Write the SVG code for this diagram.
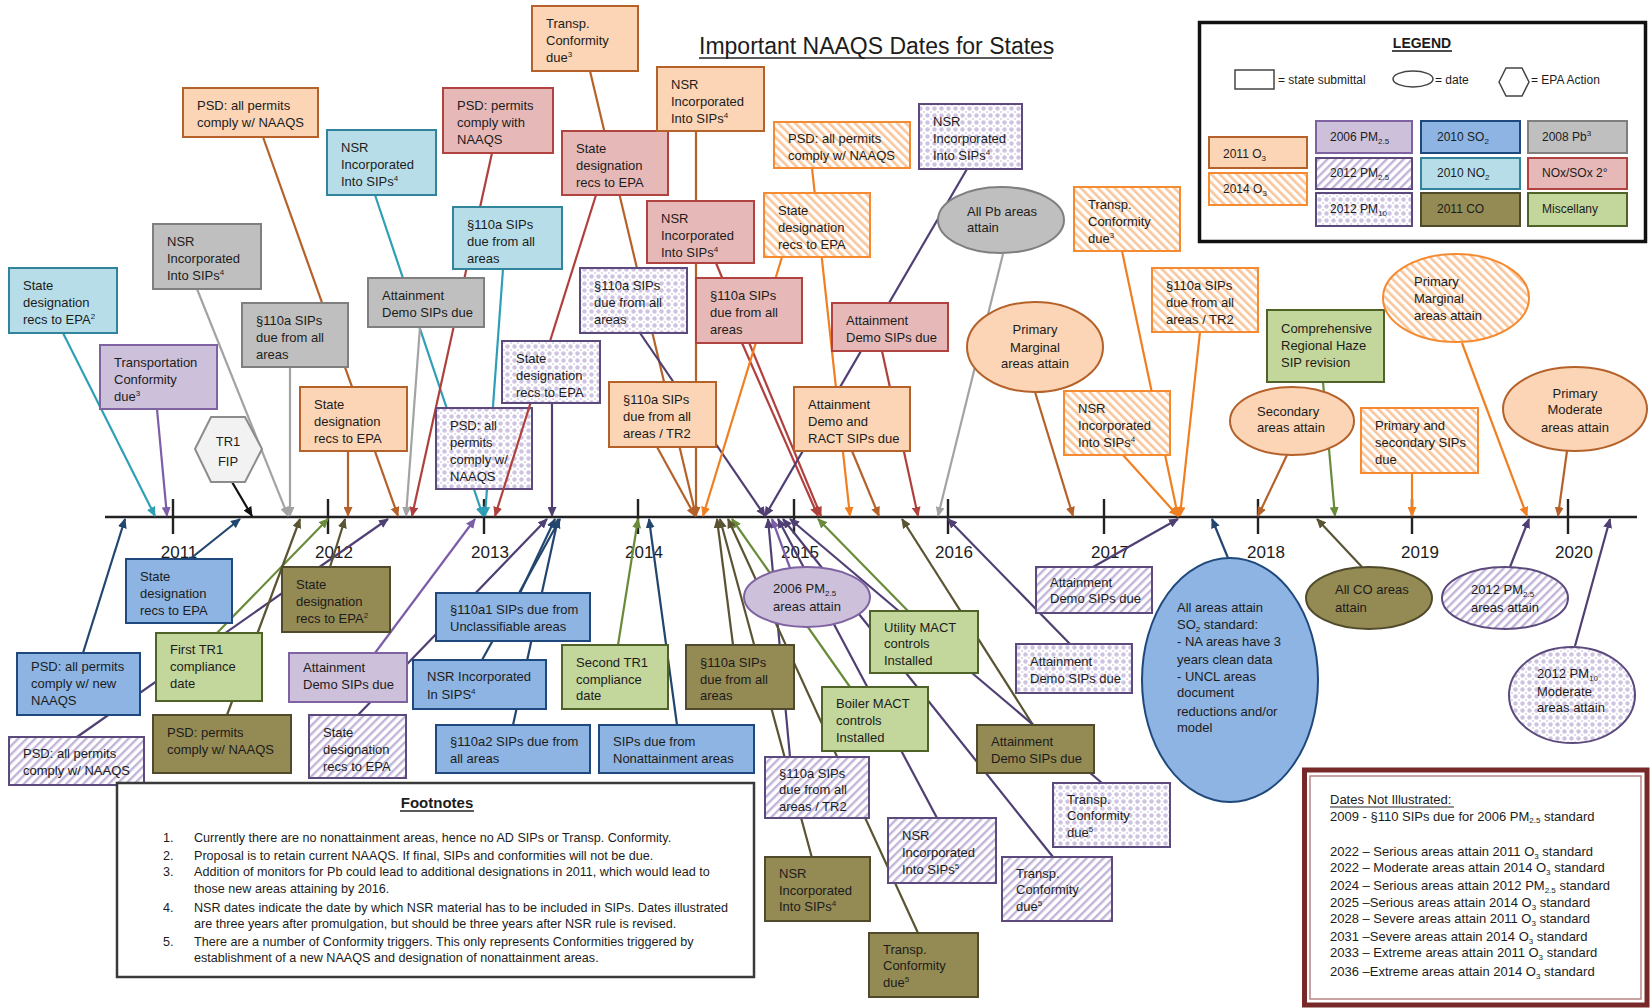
<svg xmlns="http://www.w3.org/2000/svg" width="1650" height="1008" viewBox="0 0 1650 1008">
<defs>
<style>
text{font-family:"Liberation Sans",Arial,sans-serif;fill:#1c1c1c}
.t{font-size:13px}
.s{font-size:8px}
.yr{font-size:17px;text-anchor:middle}
.fn{font-size:12.6px}
.dt{font-size:13px}
.lg{font-size:12px}
.O3{fill:#FBD5B5;stroke:#B5612A;stroke-width:2}
.O314{fill:url(#hO);stroke:#F58A30;stroke-width:2}
.PM06{fill:#CCC0DA;stroke:#7F63A1;stroke-width:2}
.PM12{fill:url(#hP);stroke:#5C4A7D;stroke-width:2}
.PM10{fill:url(#dP);stroke:#5C4A7D;stroke-width:2}
.SO2{fill:#8DB4E2;stroke:#1F497D;stroke-width:2}
.NO2{fill:#B7DEE8;stroke:#31849B;stroke-width:2}
.CO{fill:#948A54;stroke:#4F4A2B;stroke-width:2}
.Pb{fill:#BFBFBF;stroke:#7F7F7F;stroke-width:2}
.NOx{fill:#E6B9B8;stroke:#B0433F;stroke-width:2}
.Misc{fill:#C3D69B;stroke:#4F6228;stroke-width:2}
.conn line{fill:none;stroke-width:2.2}
.cO3{stroke:#B5612A;marker-end:url(#aO3)}
.cO314{stroke:#F07F22;marker-end:url(#aO314)}
.cPM06{stroke:#7B5EA7;marker-end:url(#aPM06)}
.cPM12{stroke:#4F3F73;marker-end:url(#aPM12)}
.cSO2{stroke:#23466F;marker-end:url(#aSO2)}
.cNO2{stroke:#2F9FB6;marker-end:url(#aNO2)}
.cCO{stroke:#5A5432;marker-end:url(#aCO)}
.cPb{stroke:#A3A3A3;marker-end:url(#aPb)}
.cNOx{stroke:#B0403D;marker-end:url(#aNOx)}
.cMisc{stroke:#698B3A;marker-end:url(#aMisc)}
.cBlk{stroke:#111;marker-end:url(#aBlk)}
</style>
<pattern id="hO" patternUnits="userSpaceOnUse" width="6" height="6" patternTransform="rotate(-45)"><rect width="6" height="6" fill="#fff"/><rect width="2.6" height="6" fill="#F9C59A"/></pattern>
<pattern id="hP" patternUnits="userSpaceOnUse" width="6" height="6" patternTransform="rotate(45)"><rect width="6" height="6" fill="#fff"/><rect width="2.4" height="6" fill="#C2B4D8"/></pattern>
<pattern id="dP" patternUnits="userSpaceOnUse" width="7" height="7"><rect width="7" height="7" fill="#fff"/><circle cx="3.5" cy="3.5" r="2.2" fill="#CFC3E2"/><circle cx="0" cy="0" r="1.1" fill="#DCD3EA"/><circle cx="7" cy="0" r="1.1" fill="#DCD3EA"/><circle cx="0" cy="7" r="1.1" fill="#DCD3EA"/><circle cx="7" cy="7" r="1.1" fill="#DCD3EA"/></pattern>
<marker id="aO3" viewBox="0 0 10 9" refX="9" refY="4.5" markerWidth="10" markerHeight="9" markerUnits="userSpaceOnUse" orient="auto"><path d="M0,0L10,4.5L0,9z" fill="#B5612A"/></marker>
<marker id="aO314" viewBox="0 0 10 9" refX="9" refY="4.5" markerWidth="10" markerHeight="9" markerUnits="userSpaceOnUse" orient="auto"><path d="M0,0L10,4.5L0,9z" fill="#F07F22"/></marker>
<marker id="aPM06" viewBox="0 0 10 9" refX="9" refY="4.5" markerWidth="10" markerHeight="9" markerUnits="userSpaceOnUse" orient="auto"><path d="M0,0L10,4.5L0,9z" fill="#7B5EA7"/></marker>
<marker id="aPM12" viewBox="0 0 10 9" refX="9" refY="4.5" markerWidth="10" markerHeight="9" markerUnits="userSpaceOnUse" orient="auto"><path d="M0,0L10,4.5L0,9z" fill="#4F3F73"/></marker>
<marker id="aSO2" viewBox="0 0 10 9" refX="9" refY="4.5" markerWidth="10" markerHeight="9" markerUnits="userSpaceOnUse" orient="auto"><path d="M0,0L10,4.5L0,9z" fill="#23466F"/></marker>
<marker id="aNO2" viewBox="0 0 10 9" refX="9" refY="4.5" markerWidth="10" markerHeight="9" markerUnits="userSpaceOnUse" orient="auto"><path d="M0,0L10,4.5L0,9z" fill="#2F9FB6"/></marker>
<marker id="aCO" viewBox="0 0 10 9" refX="9" refY="4.5" markerWidth="10" markerHeight="9" markerUnits="userSpaceOnUse" orient="auto"><path d="M0,0L10,4.5L0,9z" fill="#5A5432"/></marker>
<marker id="aPb" viewBox="0 0 10 9" refX="9" refY="4.5" markerWidth="10" markerHeight="9" markerUnits="userSpaceOnUse" orient="auto"><path d="M0,0L10,4.5L0,9z" fill="#A3A3A3"/></marker>
<marker id="aNOx" viewBox="0 0 10 9" refX="9" refY="4.5" markerWidth="10" markerHeight="9" markerUnits="userSpaceOnUse" orient="auto"><path d="M0,0L10,4.5L0,9z" fill="#B0403D"/></marker>
<marker id="aMisc" viewBox="0 0 10 9" refX="9" refY="4.5" markerWidth="10" markerHeight="9" markerUnits="userSpaceOnUse" orient="auto"><path d="M0,0L10,4.5L0,9z" fill="#698B3A"/></marker>
<marker id="aBlk" viewBox="0 0 10 9" refX="9" refY="4.5" markerWidth="10" markerHeight="9" markerUnits="userSpaceOnUse" orient="auto"><path d="M0,0L10,4.5L0,9z" fill="#111"/></marker>
</defs>
<rect width="1650" height="1008" fill="#fff"/>

<g id="title"><text x="699" y="54" font-size="23">Important NAAQS Dates for States</text><line x1="699" y1="58" x2="1052" y2="58" stroke="#222" stroke-width="1.6"/></g>

<g id="legend">
<rect x="1199.5" y="22.5" width="446" height="219" fill="#fff" stroke="#111" stroke-width="3.5"/>
<text x="1422" y="48" font-size="14" font-weight="bold" text-anchor="middle">LEGEND</text>
<line x1="1392" y1="51" x2="1452" y2="51" stroke="#111" stroke-width="1.3"/>
<rect x="1235" y="70" width="39" height="19" fill="#fff" stroke="#444" stroke-width="1.5"/>
<text class="lg" x="1278" y="84">= state submittal</text>
<ellipse cx="1413" cy="79" rx="20" ry="8" fill="#fff" stroke="#444" stroke-width="1.5"/>
<text class="lg" x="1435" y="84">= date</text>
<polygon points="1499,82 1506,68 1522,68 1529,82 1522,96 1506,96" fill="#fff" stroke="#444" stroke-width="1.5"/>
<text class="lg" x="1531" y="84">= EPA Action</text>
<rect class="O3" x="1209" y="137" width="98" height="31"/><text class="lg" x="1223" y="158">2011 O<tspan class="s" dy="3">3</tspan></text>
<rect class="O314" x="1209" y="173" width="98" height="32"/><text class="lg" x="1223" y="193">2014 O<tspan class="s" dy="3">3</tspan></text>
<rect class="PM06" x="1316" y="121" width="96" height="32"/><text class="lg" x="1330" y="141">2006 PM<tspan class="s" dy="3">2.5</tspan></text>
<rect class="PM12" x="1316" y="158" width="96" height="31"/><text class="lg" x="1330" y="177">2012 PM<tspan class="s" dy="3">2.5</tspan></text>
<rect class="PM10" x="1316" y="193" width="96" height="33"/><text class="lg" x="1330" y="213">2012 PM<tspan class="s" dy="3">10</tspan></text>
<rect class="SO2" x="1421" y="121" width="99" height="32"/><text class="lg" x="1437" y="141">2010 SO<tspan class="s" dy="3">2</tspan></text>
<rect class="NO2" x="1421" y="158" width="99" height="31"/><text class="lg" x="1437" y="177">2010 NO<tspan class="s" dy="3">2</tspan></text>
<rect class="CO" x="1421" y="193" width="99" height="33"/><text class="lg" x="1437" y="213">2011 CO</text>
<rect class="Pb" x="1528" y="121" width="99" height="32"/><text class="lg" x="1542" y="141">2008 Pb<tspan class="s" dy="-5">3</tspan></text>
<rect class="NOx" x="1528" y="158" width="99" height="31"/><text class="lg" x="1542" y="177">NOx/SOx 2°</text>
<rect class="Misc" x="1528" y="193" width="99" height="33"/><text class="lg" x="1542" y="213">Miscellany</text>
</g>

<g id="timeline" stroke="#222" stroke-width="2.4">
<line x1="105" y1="517" x2="1637" y2="517"/>
<line x1="173" y1="499" x2="173" y2="534"/><line x1="328" y1="499" x2="328" y2="534"/><line x1="484" y1="499" x2="484" y2="534"/><line x1="638" y1="499" x2="638" y2="534"/><line x1="794" y1="499" x2="794" y2="534"/><line x1="948" y1="499" x2="948" y2="534"/><line x1="1104" y1="499" x2="1104" y2="534"/><line x1="1258" y1="499" x2="1258" y2="534"/><line x1="1412" y1="499" x2="1412" y2="534"/><line x1="1568" y1="499" x2="1568" y2="534"/>
</g>
<g id="years">
<text class="yr" x="179" y="558">2011</text><text class="yr" x="334" y="558">2012</text><text class="yr" x="490" y="558">2013</text><text class="yr" x="644" y="558">2014</text><text class="yr" x="800" y="558">2015</text><text class="yr" x="954" y="558">2016</text><text class="yr" x="1110" y="558">2017</text><text class="yr" x="1266" y="558">2018</text><text class="yr" x="1420" y="558">2019</text><text class="yr" x="1574" y="558">2020</text>
</g>

<g id="connectors" class="conn">
<line class="cNO2" x1="63" y1="333" x2="155" y2="516"/>
<line class="cPM06" x1="157" y1="409" x2="167" y2="516"/>
<line class="cPb" x1="197" y1="289" x2="288" y2="516"/>
<line class="cPb" x1="290" y1="367" x2="290" y2="516"/>
<line class="cBlk" x1="232" y1="482" x2="252" y2="516"/>
<line class="cO3" x1="348" y1="451" x2="348" y2="516"/>
<line class="cO3" x1="263" y1="137" x2="398" y2="516"/>
<line class="cNO2" x1="375" y1="195" x2="483" y2="516"/>
<line class="cPb" x1="420" y1="327" x2="406" y2="516"/>
<line class="cNO2" x1="503" y1="269" x2="485" y2="516"/>
<line class="cNOx" x1="492" y1="153" x2="412" y2="516"/>
<line class="cO3" x1="590" y1="71" x2="696" y2="516"/>
<line class="cO3" x1="696" y1="131" x2="696" y2="516"/>
<line class="cNOx" x1="716" y1="263" x2="821" y2="516"/>
<line class="cNOx" x1="742" y1="343" x2="818" y2="516"/>
<line class="cPM12" x1="640" y1="333" x2="765" y2="516"/>
<line class="cPM12" x1="552" y1="403" x2="552" y2="516"/>
<line class="cO3" x1="657" y1="447" x2="695" y2="516"/>
<line class="cO314" x1="812" y1="168" x2="850" y2="516"/>
<line class="cO314" x1="782" y1="257" x2="703" y2="516"/>
<line class="cPM12" x1="967" y1="169" x2="765" y2="516"/>
<line class="cNOx" x1="882" y1="351" x2="918" y2="516"/>
<line class="cO3" x1="852" y1="451" x2="879" y2="516"/>
<line class="cPb" x1="1003" y1="254" x2="938" y2="516"/>
<line class="cO3" x1="1035" y1="392" x2="1073" y2="516"/>
<line class="cO314" x1="1122" y1="251" x2="1178" y2="516"/>
<line class="cO314" x1="1200" y1="332" x2="1180" y2="516"/>
<line class="cO314" x1="1123" y1="455" x2="1178" y2="516"/>
<line class="cMisc" x1="1323" y1="382" x2="1335" y2="516"/>
<line class="cO314" x1="1462" y1="343" x2="1527" y2="516"/>
<line class="cO3" x1="1287" y1="455" x2="1258" y2="516"/>
<line class="cO314" x1="1412" y1="473" x2="1412" y2="516"/>
<line class="cO3" x1="1567" y1="451" x2="1558" y2="516"/>
<line class="cSO2" x1="190" y1="559" x2="240" y2="519"/>
<line class="cSO2" x1="83" y1="653" x2="125" y2="519"/>
<line class="cPM12" x1="77" y1="737" x2="388" y2="519"/>
<line class="cMisc" x1="217" y1="633" x2="328" y2="519"/>
<line class="cCO" x1="227" y1="715" x2="300" y2="519"/>
<line class="cCO" x1="330" y1="567" x2="345" y2="519"/>
<line class="cPM06" x1="375" y1="653" x2="475" y2="519"/>
<line class="cPM12" x1="358" y1="715" x2="547" y2="519"/>
<line class="cSO2" x1="520" y1="593" x2="555" y2="519"/>
<line class="cSO2" x1="482" y1="660" x2="560" y2="519"/>
<line class="cSO2" x1="513" y1="725" x2="558" y2="519"/>
<line class="cMisc" x1="618" y1="645" x2="638" y2="519"/>
<line class="cSO2" x1="677" y1="725" x2="649" y2="519"/>
<line class="cCO" x1="733" y1="645" x2="717" y2="519"/>
<line class="cPM06" x1="790" y1="568" x2="772" y2="519"/>
<line class="cMisc" x1="908" y1="611" x2="818" y2="519"/>
<line class="cMisc" x1="850" y1="687" x2="732" y2="519"/>
<line class="cPM12" x1="790" y1="757" x2="768" y2="519"/>
<line class="cCO" x1="812" y1="858" x2="720" y2="519"/>
<line class="cCO" x1="918" y1="933" x2="728" y2="519"/>
<line class="cPM12" x1="937" y1="818" x2="778" y2="519"/>
<line class="cCO" x1="1033" y1="725" x2="902" y2="519"/>
<line class="cPM12" x1="1102" y1="783" x2="790" y2="519"/>
<line class="cPM12" x1="1070" y1="644" x2="948" y2="519"/>
<line class="cPM12" x1="1093" y1="567" x2="1178" y2="519"/>
<line class="cSO2" x1="1228" y1="558" x2="1212" y2="519"/>
<line class="cCO" x1="1362" y1="567" x2="1317" y2="519"/>
<line class="cPM12" x1="1510" y1="567" x2="1529" y2="519"/>
<line class="cPM12" x1="1575" y1="646" x2="1610" y2="519"/>
<line class="cPM12" x1="1053" y1="857" x2="783" y2="519"/>
</g>

<g id="n19"><rect class="PM10" x="436" y="408" width="96" height="81"/><text class="t" x="450" y="430"><tspan>PSD: all</tspan><tspan x="450" y="447">permits</tspan><tspan x="450" y="464">comply w/</tspan><tspan x="450" y="481">NAAQS</tspan></text></g>

<g id="connectors-front" class="conn">
<line class="cNOx" x1="596" y1="195" x2="495" y2="516"/>
</g>

<g id="n1"><rect class="NO2" x="9" y="268" width="108" height="65"/><text class="t" x="23" y="290"><tspan>State</tspan><tspan x="23" y="307">designation</tspan><tspan x="23" y="324">recs to EPA<tspan class="s" dy="-5">2</tspan></tspan></text></g>
<g id="n2"><rect class="PM06" x="100" y="345" width="117" height="64"/><text class="t" x="114" y="367"><tspan>Transportation</tspan><tspan x="114" y="384">Conformity</tspan><tspan x="114" y="401">due<tspan class="s" dy="-5">3</tspan></tspan></text></g>
<g id="n3"><rect class="Pb" x="153" y="224" width="108" height="65"/><text class="t" x="167" y="246"><tspan>NSR</tspan><tspan x="167" y="263">Incorporated</tspan><tspan x="167" y="280">Into SIPs<tspan class="s" dy="-5">4</tspan></tspan></text></g>
<g id="n4"><rect class="Pb" x="242" y="303" width="106" height="64"/><text class="t" x="256" y="325"><tspan>§110a SIPs</tspan><tspan x="256" y="342">due from all</tspan><tspan x="256" y="359">areas</tspan></text></g>
<g id="n5"><polygon points="195,449 211,417 245,417 262,449 245,482 211,482" fill="#F2F2F2" stroke="#8C8C8C" stroke-width="2"/><text class="t" x="228" y="446" text-anchor="middle">TR1</text><text class="t" x="228" y="466" text-anchor="middle">FIP</text></g>
<g id="n6"><rect class="O3" x="300" y="387" width="107" height="64"/><text class="t" x="314" y="409"><tspan>State</tspan><tspan x="314" y="426">designation</tspan><tspan x="314" y="443">recs to EPA</tspan></text></g>
<g id="n7"><rect class="O3" x="183" y="88" width="135" height="49"/><text class="t" x="197" y="110"><tspan>PSD: all permits</tspan><tspan x="197" y="127">comply w/ NAAQS</tspan></text></g>
<g id="n8"><rect class="NO2" x="327" y="130" width="109" height="65"/><text class="t" x="341" y="152"><tspan>NSR</tspan><tspan x="341" y="169">Incorporated</tspan><tspan x="341" y="186">Into SIPs<tspan class="s" dy="-5">4</tspan></tspan></text></g>
<g id="n9"><rect class="Pb" x="368" y="278" width="116" height="49"/><text class="t" x="382" y="300"><tspan>Attainment</tspan><tspan x="382" y="317">Demo SIPs due</tspan></text></g>
<g id="n10"><rect class="NO2" x="453" y="207" width="109" height="62"/><text class="t" x="467" y="229"><tspan>§110a SIPs</tspan><tspan x="467" y="246">due from all</tspan><tspan x="467" y="263">areas</tspan></text></g>
<g id="n11"><rect class="NOx" x="443" y="88" width="110" height="65"/><text class="t" x="457" y="110"><tspan>PSD: permits</tspan><tspan x="457" y="127">comply with</tspan><tspan x="457" y="144">NAAQS</tspan></text></g>
<g id="n12"><rect class="O3" x="532" y="6" width="106" height="65"/><text class="t" x="546" y="28"><tspan>Transp.</tspan><tspan x="546" y="45">Conformity</tspan><tspan x="546" y="62">due<tspan class="s" dy="-5">3</tspan></tspan></text></g>
<g id="n13"><rect class="NOx" x="562" y="131" width="106" height="64"/><text class="t" x="576" y="153"><tspan>State</tspan><tspan x="576" y="170">designation</tspan><tspan x="576" y="187">recs to EPA</tspan></text></g>
<g id="n14"><rect class="O3" x="657" y="67" width="107" height="64"/><text class="t" x="671" y="89"><tspan>NSR</tspan><tspan x="671" y="106">Incorporated</tspan><tspan x="671" y="123">Into SIPs<tspan class="s" dy="-5">4</tspan></tspan></text></g>
<g id="n15"><rect class="NOx" x="647" y="201" width="107" height="62"/><text class="t" x="661" y="223"><tspan>NSR</tspan><tspan x="661" y="240">Incorporated</tspan><tspan x="661" y="257">Into SIPs<tspan class="s" dy="-5">4</tspan></tspan></text></g>
<g id="n16"><rect class="NOx" x="696" y="278" width="106" height="65"/><text class="t" x="710" y="300"><tspan>§110a SIPs</tspan><tspan x="710" y="317">due from all</tspan><tspan x="710" y="334">areas</tspan></text></g>
<g id="n17"><rect class="PM10" x="580" y="268" width="107" height="65"/><text class="t" x="594" y="290"><tspan>§110a SIPs</tspan><tspan x="594" y="307">due from all</tspan><tspan x="594" y="324">areas</tspan></text></g>
<g id="n18"><rect class="PM10" x="502" y="341" width="98" height="62"/><text class="t" x="516" y="363"><tspan>State</tspan><tspan x="516" y="380">designation</tspan><tspan x="516" y="397">recs to EPA</tspan></text></g>
<g id="n20"><rect class="O3" x="609" y="382" width="107" height="65"/><text class="t" x="623" y="404"><tspan>§110a SIPs</tspan><tspan x="623" y="421">due from all</tspan><tspan x="623" y="438">areas / TR2</tspan></text></g>
<g id="n21"><rect class="O314" x="774" y="122" width="136" height="46"/><text class="t" x="788" y="143"><tspan>PSD: all permits</tspan><tspan x="788" y="160">comply w/ NAAQS</tspan></text></g>
<g id="n22"><rect class="O314" x="764" y="193" width="106" height="64"/><text class="t" x="778" y="215"><tspan>State</tspan><tspan x="778" y="232">designation</tspan><tspan x="778" y="249">recs to EPA</tspan></text></g>
<g id="n23"><rect class="PM10" x="919" y="104" width="103" height="65"/><text class="t" x="933" y="126"><tspan>NSR</tspan><tspan x="933" y="143">Incorporated</tspan><tspan x="933" y="160">Into SIPs<tspan class="s" dy="-5">4</tspan></tspan></text></g>
<g id="n24"><rect class="NOx" x="832" y="303" width="116" height="48"/><text class="t" x="846" y="325"><tspan>Attainment</tspan><tspan x="846" y="342">Demo SIPs due</tspan></text></g>
<g id="n25"><rect class="O3" x="794" y="387" width="116" height="64"/><text class="t" x="808" y="409"><tspan>Attainment</tspan><tspan x="808" y="426">Demo and</tspan><tspan x="808" y="443">RACT SIPs due</tspan></text></g>
<g id="n26"><ellipse class="Pb" cx="1001" cy="220" rx="63" ry="33"/><text class="t" x="967" y="216"><tspan>All Pb areas</tspan><tspan x="967" y="232">attain</tspan></text></g>
<g id="n27"><ellipse class="O3" cx="1035" cy="347" rx="68" ry="45"/><text class="t" x="1035" y="334" text-anchor="middle"><tspan>Primary</tspan><tspan x="1035" y="352">Marginal</tspan><tspan x="1035" y="368">areas attain</tspan></text></g>
<g id="n28"><rect class="O314" x="1074" y="187" width="106" height="64"/><text class="t" x="1088" y="209"><tspan>Transp.</tspan><tspan x="1088" y="226">Conformity</tspan><tspan x="1088" y="243">due<tspan class="s" dy="-5">3</tspan></tspan></text></g>
<g id="n29"><rect class="O314" x="1152" y="268" width="106" height="64"/><text class="t" x="1166" y="290"><tspan>§110a SIPs</tspan><tspan x="1166" y="307">due from all</tspan><tspan x="1166" y="324">areas / TR2</tspan></text></g>
<g id="n30"><rect class="O314" x="1064" y="391" width="106" height="64"/><text class="t" x="1078" y="413"><tspan>NSR</tspan><tspan x="1078" y="430">Incorporated</tspan><tspan x="1078" y="447">Into SIPs<tspan class="s" dy="-5">4</tspan></tspan></text></g>
<g id="n31"><rect class="Misc" x="1267" y="310" width="117" height="72"/><text class="t" x="1281" y="333"><tspan>Comprehensive</tspan><tspan x="1281" y="350">Regional Haze</tspan><tspan x="1281" y="367">SIP revision</tspan></text></g>
<g id="n32"><ellipse class="O314" cx="1456" cy="298" rx="73" ry="44"/><text class="t" x="1414" y="286"><tspan>Primary</tspan><tspan x="1414" y="303">Marginal</tspan><tspan x="1414" y="320">areas attain</tspan></text></g>
<g id="n33"><ellipse class="O3" cx="1292" cy="421" rx="62" ry="34"/><text class="t" x="1257" y="416"><tspan>Secondary</tspan><tspan x="1257" y="432">areas attain</tspan></text></g>
<g id="n34"><rect class="O314" x="1361" y="408" width="117" height="65"/><text class="t" x="1375" y="430"><tspan>Primary and</tspan><tspan x="1375" y="447">secondary SIPs</tspan><tspan x="1375" y="464">due</tspan></text></g>
<g id="n35"><ellipse class="O3" cx="1575" cy="409" rx="72" ry="42"/><text class="t" x="1575" y="398" text-anchor="middle"><tspan>Primary</tspan><tspan x="1575" y="414">Moderate</tspan><tspan x="1575" y="432">areas attain</tspan></text></g>

<g id="n36"><rect class="SO2" x="126" y="559" width="106" height="64"/><text class="t" x="140" y="581"><tspan>State</tspan><tspan x="140" y="598">designation</tspan><tspan x="140" y="615">recs to EPA</tspan></text></g>
<g id="n37"><rect class="SO2" x="17" y="653" width="123" height="62"/><text class="t" x="31" y="671"><tspan>PSD: all permits</tspan><tspan x="31" y="688">comply w/ new</tspan><tspan x="31" y="705">NAAQS</tspan></text></g>
<g id="n38"><rect class="PM12" x="9" y="737" width="135" height="48"/><text class="t" x="23" y="758"><tspan>PSD: all permits</tspan><tspan x="23" y="775">comply w/ NAAQS</tspan></text></g>
<g id="n39"><rect class="Misc" x="156" y="633" width="106" height="68"/><text class="t" x="170" y="654"><tspan>First TR1</tspan><tspan x="170" y="671">compliance</tspan><tspan x="170" y="688">date</tspan></text></g>
<g id="n40"><rect class="CO" x="153" y="715" width="138" height="58"/><text class="t" x="167" y="737"><tspan>PSD: permits</tspan><tspan x="167" y="754">comply w/ NAAQS</tspan></text></g>
<g id="n41"><rect class="CO" x="282" y="567" width="108" height="65"/><text class="t" x="296" y="589"><tspan>State</tspan><tspan x="296" y="606">designation</tspan><tspan x="296" y="623">recs to EPA<tspan class="s" dy="-5">2</tspan></tspan></text></g>
<g id="n42"><rect class="PM06" x="289" y="653" width="118" height="49"/><text class="t" x="303" y="672"><tspan>Attainment</tspan><tspan x="303" y="689">Demo SIPs due</tspan></text></g>
<g id="n43"><rect class="PM12" x="309" y="715" width="97" height="63"/><text class="t" x="323" y="737"><tspan>State</tspan><tspan x="323" y="754">designation</tspan><tspan x="323" y="771">recs to EPA</tspan></text></g>
<g id="n44"><rect class="SO2" x="436" y="593" width="154" height="48"/><text class="t" x="450" y="614"><tspan>§110a1 SIPs due from</tspan><tspan x="450" y="631">Unclassifiable areas</tspan></text></g>
<g id="n44b"><rect class="SO2" x="413" y="660" width="133" height="49"/><text class="t" x="427" y="681"><tspan>NSR Incorporated</tspan><tspan x="427" y="699">In SIPS<tspan class="s" dy="-5">4</tspan></tspan></text></g>
<g id="n44c"><rect class="SO2" x="436" y="725" width="154" height="48"/><text class="t" x="450" y="746"><tspan>§110a2 SIPs due from</tspan><tspan x="450" y="763">all areas</tspan></text></g>
<g id="n45"><rect class="Misc" x="562" y="645" width="106" height="64"/><text class="t" x="576" y="667"><tspan>Second TR1</tspan><tspan x="576" y="684">compliance</tspan><tspan x="576" y="700">date</tspan></text></g>
<g id="n46"><rect class="SO2" x="599" y="725" width="155" height="48"/><text class="t" x="613" y="746"><tspan>SIPs due from</tspan><tspan x="613" y="763">Nonattainment areas</tspan></text></g>
<g id="n47"><rect class="CO" x="686" y="645" width="108" height="64"/><text class="t" x="700" y="667"><tspan>§110a SIPs</tspan><tspan x="700" y="684">due from all</tspan><tspan x="700" y="700">areas</tspan></text></g>
<g id="n48"><ellipse class="PM06" cx="807" cy="597" rx="63" ry="30"/><text class="t" x="773" y="593">2006 PM<tspan class="s" dy="3">2.5</tspan></text><text class="t" x="773" y="611">areas attain</text></g>
<g id="n49"><rect class="Misc" x="870" y="611" width="108" height="62"/><text class="t" x="884" y="632"><tspan>Utility MACT</tspan><tspan x="884" y="648">controls</tspan><tspan x="884" y="665">Installed</tspan></text></g>
<g id="n50"><rect class="Misc" x="822" y="687" width="106" height="64"/><text class="t" x="836" y="708"><tspan>Boiler MACT</tspan><tspan x="836" y="725">controls</tspan><tspan x="836" y="742">Installed</tspan></text></g>
<g id="n51"><rect class="PM12" x="765" y="757" width="104" height="61"/><text class="t" x="779" y="778"><tspan>§110a SIPs</tspan><tspan x="779" y="794">due from all</tspan><tspan x="779" y="811">areas / TR2</tspan></text></g>
<g id="n52"><rect class="CO" x="765" y="857" width="105" height="64"/><text class="t" x="779" y="878"><tspan>NSR</tspan><tspan x="779" y="895">Incorporated</tspan><tspan x="779" y="911">Into SIPs<tspan class="s" dy="-5">4</tspan></tspan></text></g>
<g id="n53"><rect class="CO" x="869" y="933" width="109" height="64"/><text class="t" x="883" y="954"><tspan>Transp.</tspan><tspan x="883" y="970">Conformity</tspan><tspan x="883" y="987">due<tspan class="s" dy="-5">5</tspan></tspan></text></g>
<g id="n54"><rect class="PM12" x="888" y="818" width="108" height="65"/><text class="t" x="902" y="840"><tspan>NSR</tspan><tspan x="902" y="857">Incorporated</tspan><tspan x="902" y="874">Into SIPs<tspan class="s" dy="-5">5</tspan></tspan></text></g>
<g id="n55"><rect class="CO" x="977" y="725" width="117" height="48"/><text class="t" x="991" y="746"><tspan>Attainment</tspan><tspan x="991" y="763">Demo SIPs due</tspan></text></g>
<g id="n56"><rect class="PM10" x="1053" y="783" width="117" height="64"/><text class="t" x="1067" y="804"><tspan>Transp.</tspan><tspan x="1067" y="820">Conformity</tspan><tspan x="1067" y="837">due<tspan class="s" dy="-5">5</tspan></tspan></text></g>
<g id="n57"><rect class="PM10" x="1016" y="644" width="116" height="49"/><text class="t" x="1030" y="666"><tspan>Attainment</tspan><tspan x="1030" y="683">Demo SIPs due</tspan></text></g>
<g id="n58"><rect class="PM12" x="1036" y="567" width="116" height="46"/><text class="t" x="1050" y="587"><tspan>Attainment</tspan><tspan x="1050" y="603">Demo SIPs due</tspan></text></g>
<g id="n59"><ellipse class="SO2" cx="1230" cy="680" rx="88" ry="122"/><text class="t" x="1177" y="612">All areas attain</text><text class="t" x="1177" y="629">SO<tspan class="s" dy="3">2</tspan><tspan dy="-3"> standard:</tspan></text><text class="t" x="1177" y="646">- NA areas have 3</text><text class="t" x="1177" y="664">years clean data</text><text class="t" x="1177" y="681">- UNCL areas</text><text class="t" x="1177" y="697">document</text><text class="t" x="1177" y="716">reductions and/or</text><text class="t" x="1177" y="732">model</text></g>
<g id="n60"><ellipse class="CO" cx="1369" cy="598" rx="63" ry="31"/><text class="t" x="1335" y="594"><tspan>All CO areas</tspan><tspan x="1335" y="612">attain</tspan></text></g>
<g id="n61"><ellipse class="PM12" cx="1505" cy="598" rx="63" ry="31"/><text class="t" x="1471" y="594">2012 PM<tspan class="s" dy="3">2.5</tspan></text><text class="t" x="1471" y="612">areas attain</text></g>
<g id="n62"><ellipse class="PM10" cx="1572" cy="695" rx="63" ry="48"/><text class="t" x="1537" y="678">2012 PM<tspan class="s" dy="3">10</tspan></text><text class="t" x="1537" y="696">Moderate</text><text class="t" x="1537" y="712">areas attain</text></g>
<g id="n63"><rect class="PM12" x="1002" y="857" width="110" height="64"/><text class="t" x="1016" y="878"><tspan>Transp.</tspan><tspan x="1016" y="894">Conformity</tspan><tspan x="1016" y="911">due<tspan class="s" dy="-5">5</tspan></tspan></text></g>

<g id="footnotes">
<rect x="117" y="783" width="637" height="194" fill="#fff" stroke="#3a3a3a" stroke-width="2.5"/>
<text x="437" y="808" font-size="15" font-weight="bold" text-anchor="middle">Footnotes</text>
<line x1="400" y1="811" x2="474" y2="811" stroke="#222" stroke-width="1.3"/>
<text class="fn" x="163" y="842">1.</text><text class="fn" x="194" y="842">Currently there are no nonattainment areas, hence no AD SIPs or Transp. Conformity.</text>
<text class="fn" x="163" y="860">2.</text><text class="fn" x="194" y="860">Proposal is to retain current NAAQS. If final, SIPs and conformities will not be due.</text>
<text class="fn" x="163" y="876">3.</text><text class="fn" x="194" y="876">Addition of monitors for Pb could lead to additional designations in 2011, which would lead to</text>
<text class="fn" x="194" y="893">those new areas attaining by 2016.</text>
<text class="fn" x="163" y="912">4.</text><text class="fn" x="194" y="912">NSR dates indicate the date by which NSR material has to be included in SIPs. Dates illustrated</text>
<text class="fn" x="194" y="928">are three years after promulgation, but should be three years after NSR rule is revised.</text>
<text class="fn" x="163" y="946">5.</text><text class="fn" x="194" y="946">There are a number of Conformity triggers. This only represents Conformities triggered by</text>
<text class="fn" x="194" y="962">establishment of a new NAAQS and designation of nonattainment areas.</text>
</g>

<g id="dates">
<rect x="1304.5" y="770" width="342.5" height="235" fill="#fff" stroke="#772828" stroke-width="5"/>
<rect x="1310" y="776" width="331" height="223" fill="none" stroke="#B68585" stroke-width="1.5"/>
<text class="dt" x="1330" y="804">Dates Not Illustrated:</text>
<line x1="1330" y1="807" x2="1454" y2="807" stroke="#222" stroke-width="1.1"/>
<text class="dt" x="1330" y="821">2009 - §110 SIPs due for 2006 PM<tspan class="s" dy="2">2.5</tspan><tspan dy="-2"> standard</tspan></text>
<text class="dt" x="1330" y="856">2022 – Serious areas attain 2011 O<tspan class="s" dy="3">3</tspan><tspan dy="-3"> standard</tspan></text>
<text class="dt" x="1330" y="872">2022 – Moderate areas attain 2014 O<tspan class="s" dy="3">3</tspan><tspan dy="-3"> standard</tspan></text>
<text class="dt" x="1330" y="890">2024 – Serious areas attain 2012 PM<tspan class="s" dy="3">2.5</tspan><tspan dy="-3"> standard</tspan></text>
<text class="dt" x="1330" y="907">2025 –Serious areas attain 2014 O<tspan class="s" dy="3">3</tspan><tspan dy="-3"> standard</tspan></text>
<text class="dt" x="1330" y="923">2028 – Severe areas attain 2011 O<tspan class="s" dy="3">3</tspan><tspan dy="-3"> standard</tspan></text>
<text class="dt" x="1330" y="941">2031 –Severe areas attain 2014 O<tspan class="s" dy="3">3</tspan><tspan dy="-3"> standard</tspan></text>
<text class="dt" x="1330" y="957">2033 – Extreme areas attain 2011 O<tspan class="s" dy="3">3</tspan><tspan dy="-3"> standard</tspan></text>
<text class="dt" x="1330" y="976">2036 –Extreme areas attain 2014 O<tspan class="s" dy="3">3</tspan><tspan dy="-3"> standard</tspan></text>
</g>
</svg>
